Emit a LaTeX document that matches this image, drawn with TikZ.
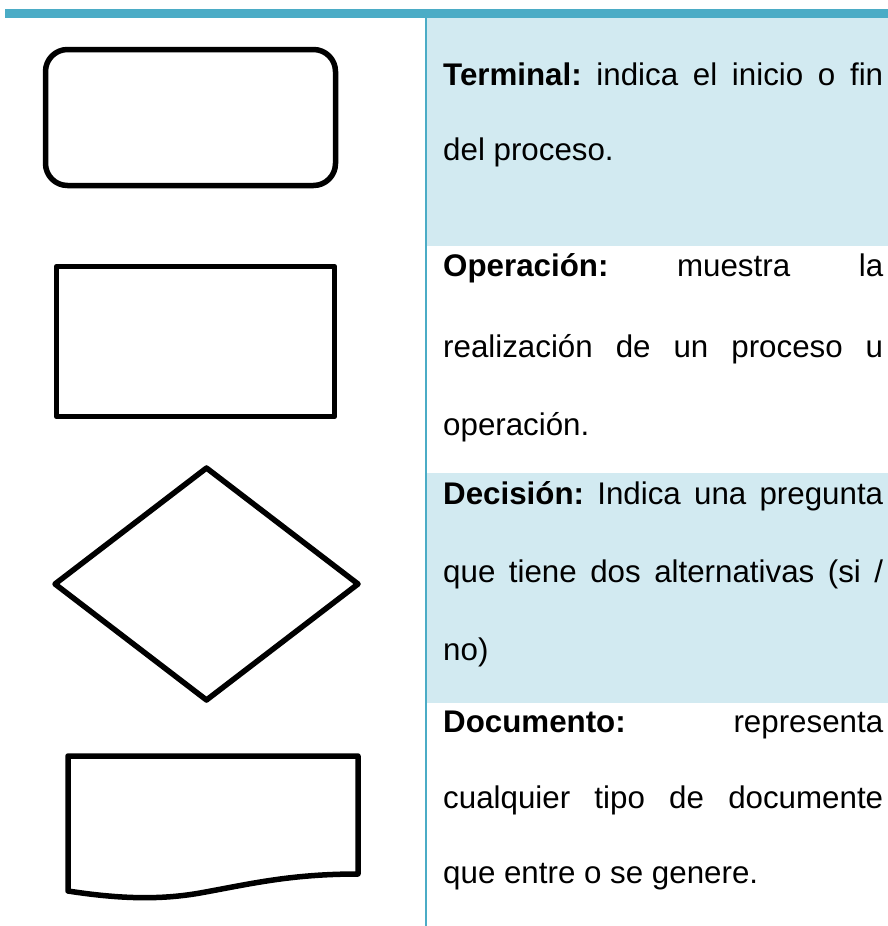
\documentclass[tikz,border=0pt]{standalone}
\usepackage{fontspec}
\setmainfont{Liberation Sans}
\definecolor{accent}{HTML}{4BACC6}
\definecolor{band}{HTML}{D2EAF1}
\newcommand{\jline}[1]{\hbox to 440pt{\frenchspacing #1}}
\begin{document}
\begin{tikzpicture}[x=1pt,y=-1pt,
  shapeline/.style={line width=5.5pt, line join=round, draw=black},
  txt/.style={anchor=base west, inner sep=0pt, font=\fontsize{31.3}{31.3}\selectfont}]
\useasboundingbox (0,0) rectangle (888,926);
% bands
\fill[band] (427,18) rectangle (888,246);
\fill[band] (427,473) rectangle (888,703);
% top bar and divider
\fill[accent] (5,9) rectangle (888,18);
\draw[accent, line width=2.6pt] (426,18) -- (426,926);
% shapes
\draw[shapeline, rounded corners=22pt] (45.5,49.5) rectangle (335.5,185.5);
\draw[shapeline] (56.5,266.5) rectangle (334.5,416.5);
\draw[shapeline] (206.5,468) -- (358,584) -- (206.5,700) -- (55,584) -- cycle;
\draw[shapeline] (68,891) -- (68,756) -- (358,756) -- (358,874)
  .. controls (290,874) and (250,884) .. (200,893)
  .. controls (160,900) and (120,899) .. (68,891) -- cycle;
% texts
\node[txt] (t1) at (443,85) {\jline{\textbf{Terminal:} indica el inicio o fin}};
\node[txt] (t2) at (443,160) {del proceso.};
\node[txt] (o1) at (443,276) {\jline{\textbf{Operación:} muestra la}};
\node[txt] (o2) at (443,357) {\jline{realización de un proceso u}};
\node[txt] (o3) at (443,435) {operación.};
\node[txt] (d1) at (443,504) {\jline{\textbf{Decisión:} Indica una pregunta}};
\node[txt] (d2) at (443,582) {\jline{que tiene dos alternativas (si /}};
\node[txt] (d3) at (443,660) {no)};
\node[txt] (c1) at (443,732) {\jline{\textbf{Documento:} representa}};
\node[txt] (c2) at (443,808) {\jline{cualquier tipo de documente}};
\node[txt] (c3) at (443,883) {que entre o se genere.};
\end{tikzpicture}
\end{document}
